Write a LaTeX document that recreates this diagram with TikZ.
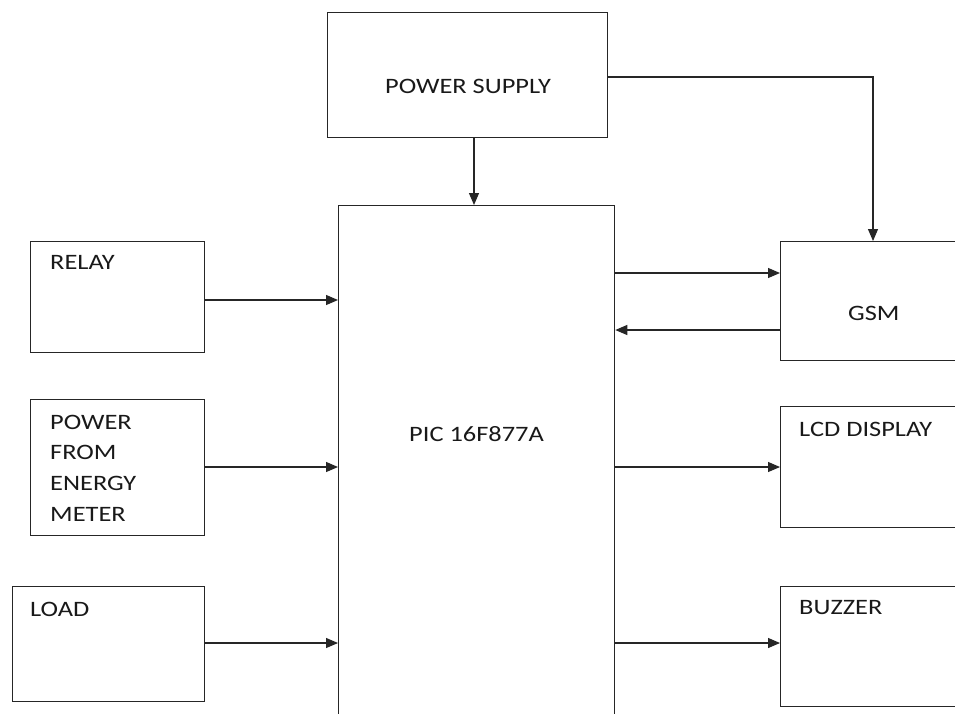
\documentclass[tikz,border=0pt]{standalone}
\usepackage{fontspec}
\setmainfont{Carlito}[FakeStretch=1.2]
\usetikzlibrary{arrows.meta,calc}
\begin{document}
\begin{tikzpicture}[x=1pt,y=-1pt,
  box/.style={draw=black!85,line width=1.3pt,rectangle,inner sep=0pt,anchor=north west},
  lbl/.style={anchor=base west,inner sep=0pt,text=black!90,font=\fontsize{22}{26}\selectfont},
  arr/.style={draw=black!85,line width=1.2pt,-{Triangle[length=12pt,width=10pt]}}]
\useasboundingbox (0,0) rectangle (955,713);
\clip (0,0) rectangle (955,713);
\fill[white] (0,0) rectangle (955,713);
% boxes
\node[box,minimum width=280pt,minimum height=125pt] (ps) at (327,12) {};
\node[box,minimum width=276pt,minimum height=540pt] (pic) at (338,205) {};
\node[box,minimum width=174pt,minimum height=111pt] (relay) at (30,241) {};
\node[box,minimum width=174pt,minimum height=136pt] (pfem) at (30,399) {};
\node[box,minimum width=192pt,minimum height=115pt] (load) at (12,586) {};
\node[box,minimum width=200pt,minimum height=119pt] (gsm) at (780,241) {};
\node[box,minimum width=200pt,minimum height=121pt] (lcd) at (780,406) {};
\node[box,minimum width=200pt,minimum height=120pt] (buzz) at (780,586) {};
% labels
\node[lbl] (tps) at (385,93) {POWER SUPPLY};
\node[lbl] (tpic) at (409,441) {PIC 16F877A};
\node[lbl] (trelay) at (50,269) {RELAY};
\node[lbl] (tp1) at (50,429) {POWER};
\node[lbl] (tp2) at (50,459) {FROM};
\node[lbl] (tp3) at (50,490) {ENERGY};
\node[lbl] (tp4) at (50,521) {METER};
\node[lbl] (tload) at (30,616) {LOAD};
\node[lbl] (tgsm) at (848,320) {GSM};
\node[lbl] (tlcd) at (799,436) {LCD DISPLAY};
\node[lbl] (tbuzz) at (799,614) {BUZZER};
% connector end points
\coordinate (psb) at (474,137);
\coordinate (psr) at (607,77);
\coordinate (gsmt) at (873,241);
\coordinate (r1) at (204,300);
\coordinate (r2) at (204,467);
\coordinate (r3) at (204,643);
\coordinate (g1) at (614,273);
\coordinate (g2) at (780,330);
\coordinate (l1) at (614,467);
\coordinate (b1) at (614,643);
% connectors
\draw[arr] (psb) -- (psb |- pic.north);
\draw[arr] (psr) -| (gsmt);
\draw[arr] (r1) -- (r1 -| pic.west);
\draw[arr] (r2) -- (r2 -| pic.west);
\draw[arr] (r3) -- (r3 -| pic.west);
\draw[arr] (g1) -- (g1 -| gsm.west);
\draw[arr] (g2) -- (g2 -| pic.east);
\draw[arr] (l1) -- (l1 -| lcd.west);
\draw[arr] (b1) -- (b1 -| buzz.west);
\end{tikzpicture}
\end{document}
